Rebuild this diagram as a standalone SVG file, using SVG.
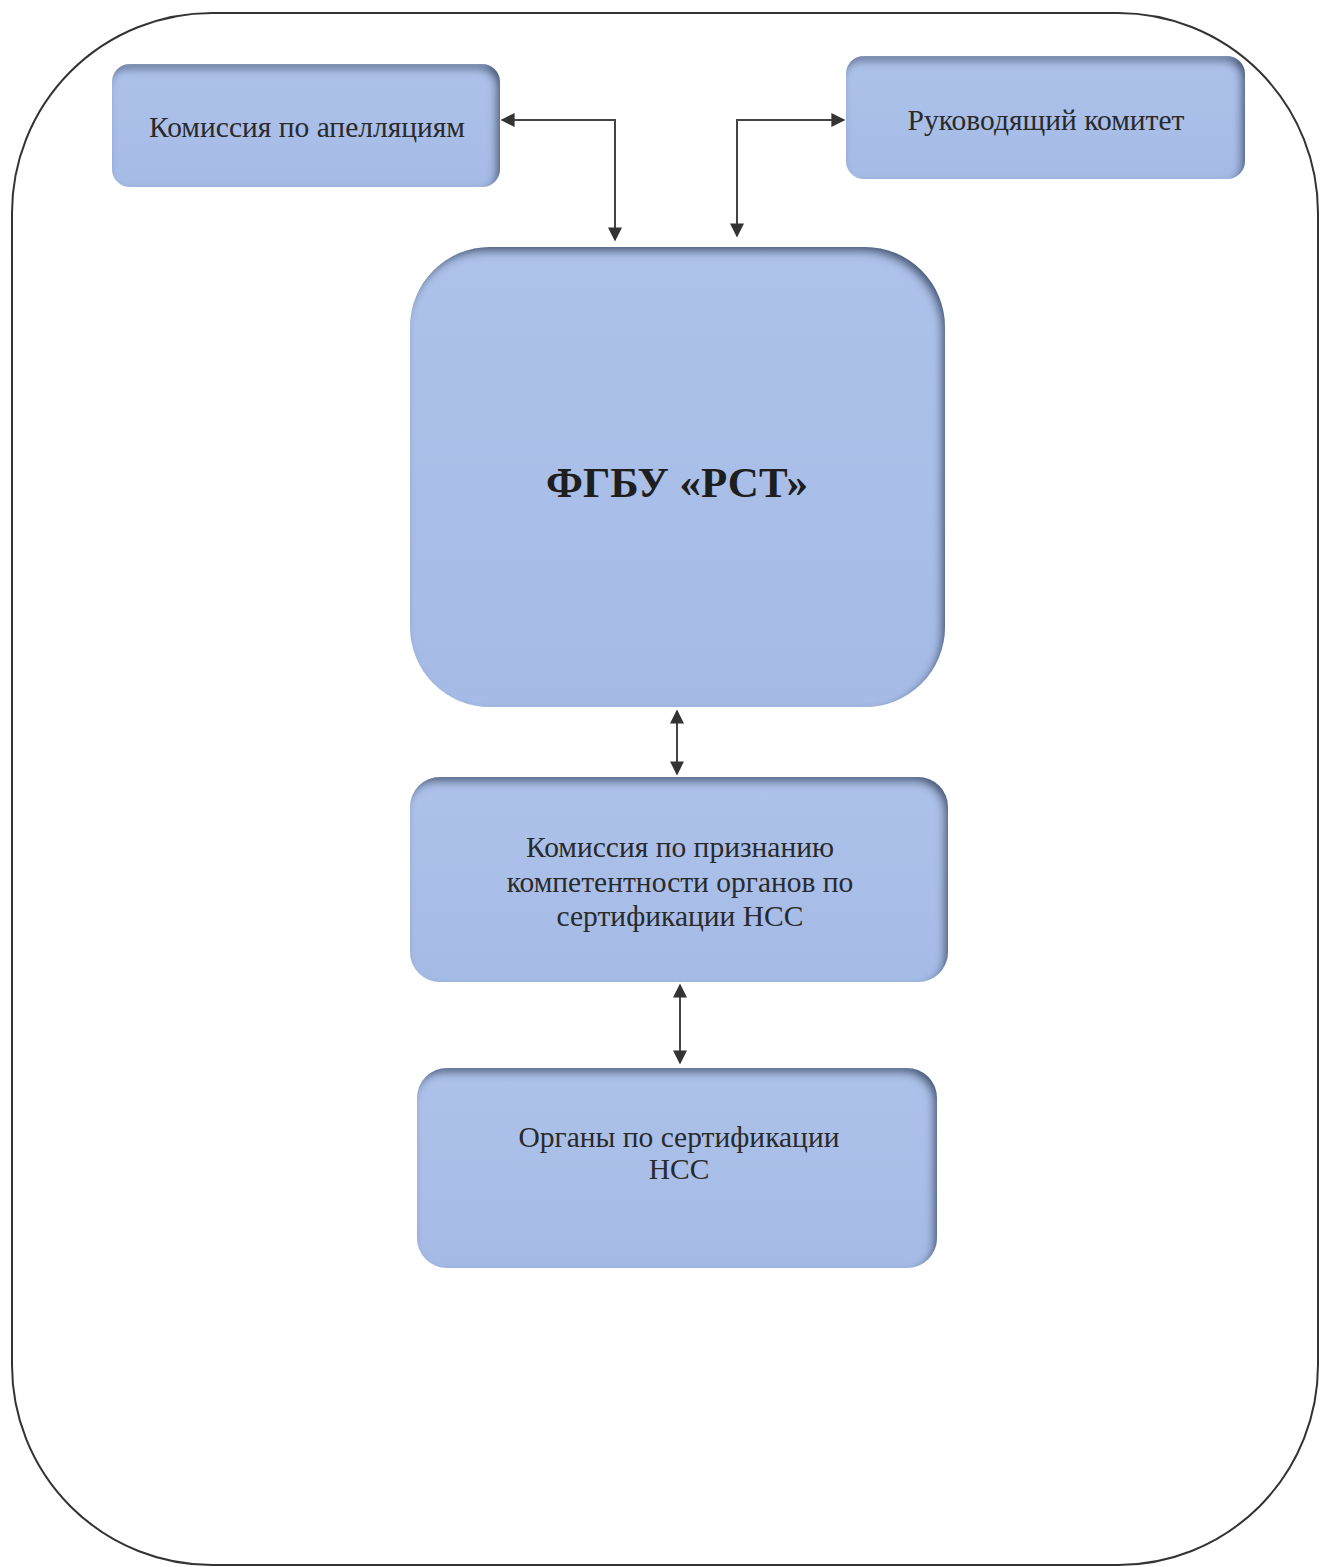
<svg xmlns="http://www.w3.org/2000/svg" width="1320" height="1567" viewBox="0 0 1320 1567">
<style>
.box{fill:url(#bg);filter:url(#inner)}
.t{font-family:"Liberation Serif","Times New Roman",serif;font-size:29.5px;fill:#2a2a2a;text-anchor:middle}
.tb{font-family:"Liberation Serif","Times New Roman",serif;font-size:43px;font-weight:bold;fill:#1e1e1e;text-anchor:middle}
.c{fill:none;stroke:#444;stroke-width:2;marker-start:url(#ah);marker-end:url(#ah)}
</style>
<defs>
<linearGradient id="bg" x1="0" y1="0" x2="0" y2="1">
<stop offset="0" stop-color="#adc2ea"/>
<stop offset="1" stop-color="#a5bbe6"/>
</linearGradient>
<filter id="inner" x="-5%" y="-5%" width="110%" height="110%">
<feFlood flood-color="#2a3a5e" flood-opacity="0.9" result="f"/>
<feComposite in="f" in2="SourceAlpha" operator="out" result="o"/>
<feGaussianBlur in="o" stdDeviation="4" result="b"/>
<feOffset in="b" dx="-4" dy="5" result="off"/>
<feComposite in="off" in2="SourceAlpha" operator="in" result="sh"/>
<feMerge><feMergeNode in="SourceGraphic"/><feMergeNode in="sh"/></feMerge>
</filter>
<marker id="ah" viewBox="0 0 10 10" refX="9" refY="5" markerWidth="8" markerHeight="7" markerUnits="strokeWidth" orient="auto-start-reverse">
<path d="M0,0 L10,5 L0,10 z" fill="#333"/>
</marker>
</defs>
<rect x="12" y="13" width="1306" height="1552" rx="200" ry="200" fill="none" stroke="#333" stroke-width="2"/>
<g id="connectors">
<path class="c" d="M615 240 L615 120 L502 120"/>
<path class="c" d="M737 236 L737 120 L844 120"/>
<path class="c" d="M677 711 L677 774"/>
<path class="c" d="M680 985 L680 1063"/>
</g>
<g id="appeals">
<rect class="box" x="112" y="64" width="388" height="123" rx="18"/>
<text class="t" x="307" y="137">Комиссия по апелляциям</text>
</g>
<g id="steering">
<rect class="box" x="846" y="56" width="399" height="123" rx="18"/>
<text class="t" x="1046" y="130">Руководящий комитет</text>
</g>
<g id="rst">
<rect class="box" x="410" y="247" width="535" height="460" rx="80"/>
<text class="tb" x="677" y="497">ФГБУ «РСТ»</text>
</g>
<g id="commission">
<rect class="box" x="410" y="777" width="538" height="205" rx="30"/>
<text class="t" x="680" y="857">Комиссия по признанию</text>
<text class="t" x="680" y="892">компетентности органов по</text>
<text class="t" x="680" y="926">сертификации НСС</text>
</g>
<g id="bodies">
<rect class="box" x="417" y="1068" width="520" height="200" rx="30"/>
<text class="t" x="679" y="1147">Органы по сертификации</text>
<text class="t" x="679" y="1179">НСС</text>
</g>
</svg>
